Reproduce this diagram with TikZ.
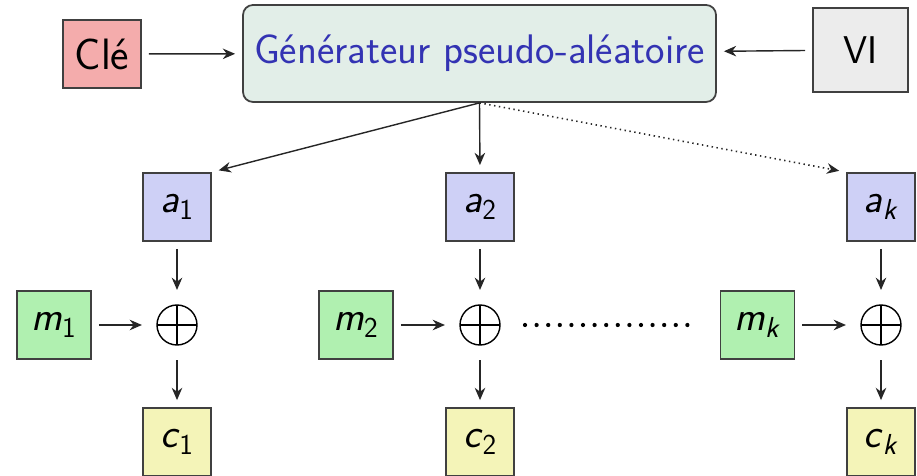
\documentclass[tikz,border=0pt]{standalone}
\usepackage{fontspec}
\usetikzlibrary{arrows.meta}

\definecolor{structure}{RGB}{51,51,179}
\definecolor{genfill}{RGB}{226,238,232}
\definecolor{keyfill}{RGB}{244,172,172}
\definecolor{ivfill}{RGB}{236,236,236}
\definecolor{afill}{RGB}{206,208,246}
\definecolor{mfill}{RGB}{176,240,176}
\definecolor{cfill}{RGB}{244,244,184}

% indexed variable in slanted sans
\newcommand{\ivar}[2]{\textsl{#1}\textsubscript{#2}}

\begin{document}
\begin{tikzpicture}[
    font=\sffamily\fontsize{23.5}{28}\selectfont,
    box/.style={draw=black!75, line width=1pt, minimum width=1.36cm, minimum height=1.36cm, inner sep=0pt},
    xor/.style={circle, draw=black, thick, minimum size=0.8cm, inner sep=0pt, outer sep=0.16cm,
        path picture={\draw[thick] (path picture bounding box.north) -- (path picture bounding box.south)
                                   (path picture bounding box.west) -- (path picture bounding box.east);}},
    arr/.style={-{Stealth[length=7pt,width=6pt]}, thick, black!85, shorten <=4pt, shorten >=4pt}
]
    \useasboundingbox (0,0) rectangle (18.34,9.5);

    % Key, generator and IV
    \node[box, fill=keyfill, minimum width=1.56cm, font=\sffamily\fontsize{25}{30}\selectfont] (cle) at (2.04,8.42) {Clé};
    \node[box, fill=genfill, rounded corners=0.2cm, minimum width=9.46cm, minimum height=1.94cm,
          text=structure] (gen) at (9.59,8.43) {Générateur pseudo-aléatoire};
    \node[box, fill=ivfill, minimum width=1.9cm, minimum height=1.68cm,
          font=\sffamily\fontsize{22}{26}\selectfont] (vi) at (17.21,8.5) {VI};

    \draw[arr] (cle) -- (gen);
    \draw[arr] (vi) -- (gen);

    % Keystream blocks
    \node[box, fill=afill] (a1) at (3.54,5.36) {\ivar{a}{1}};
    \node[box, fill=afill] (a2) at (9.6,5.36) {\ivar{a}{2}};
    \node[box, fill=afill] (ak) at (17.62,5.36) {\ivar{a}{\textsl{k}}};

    \draw[arr, shorten <=0pt] (gen.south) -- (a1.north east);
    \draw[arr, shorten <=0pt] (gen.south) -- (a2.north);
    \draw[arr, shorten <=0pt, dotted, line width=0.9pt] (gen.south) -- (ak.north west);

    % Messages and XOR
    \node[box, fill=mfill, minimum width=1.48cm] (m1) at (1.08,3.0) {\ivar{m}{1}};
    \node[box, fill=mfill, minimum width=1.48cm] (m2) at (7.12,3.0) {\ivar{m}{2}};
    \node[box, fill=mfill, minimum width=1.48cm] (mk) at (15.15,3.0) {\ivar{m}{\textsl{k}}};

    \node[xor] (x1) at (3.54,3.0) {};
    \node[xor] (x2) at (9.6,3.0) {};
    \node[xor] (xk) at (17.62,3.0) {};

    \draw[line width=2.4pt, line cap=round, dash pattern=on 0pt off 6.6pt,
          shorten <=0.34cm, shorten >=0.46cm] (x2) -- (mk);

    % Ciphertext blocks
    \node[box, fill=cfill] (c1) at (3.54,0.66) {\ivar{c}{1}};
    \node[box, fill=cfill] (c2) at (9.6,0.66) {\ivar{c}{2}};
    \node[box, fill=cfill] (ck) at (17.62,0.66) {\ivar{c}{\textsl{k}}};

    \foreach \i in {1,2,k} {
        \draw[arr] (a\i) -- (x\i);
        \draw[arr] (m\i) -- (x\i);
        \draw[arr] (x\i) -- (c\i);
    }
\end{tikzpicture}
\end{document}
